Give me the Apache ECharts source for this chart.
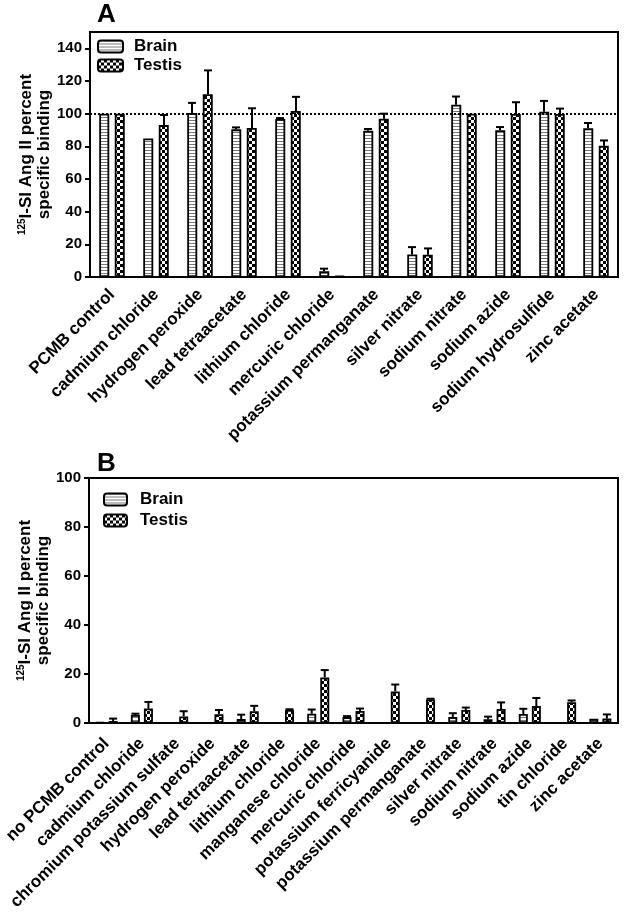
<!DOCTYPE html>
<html lang="en">
<head>
    <meta charset="UTF-8">
    <title>PCMB binding</title>
    <script src="https://cdn.jsdelivr.net/npm/echarts@6/dist/echarts.min.js"></script>
    <style>
        html, body { margin: 0; padding: 0; background: #fff; }
    </style>
</head>
<body>
<div id="main" style="width: 624px;height:917px;"></div>
<script>
    // panel A
    const catsA = ['PCMB control', 'cadmium chloride', 'hydrogen peroxide', 'lead tetraacetate',
        'lithium chloride', 'mercuric chloride', 'potassium permanganate', 'silver nitrate',
        'sodium nitrate', 'sodium azide', 'sodium hydrosulfide', 'zinc acetate'];
    const brainA = [100, 84.8, 100.4, 90.4, 96.7, 3.5, 89.5, 13.8, 105.5, 89.9, 101.2, 91];
    const brainATop = [null, null, 106.6, 91.6, 97.3, 5.1, 90.6, 18.3, 110.5, 91.8, 107.8, 94.3];
    const testisA = [100, 93, 111.9, 91.2, 101.6, 0.6, 96.9, 13.6, 100, 99.8, 99.8, 80.3];
    const testisATop = [null, 99.2, 126.5, 103.3, 110.3, null, 100, 17.5, null, 107, 103.1, 83.6];

    // panel B
    const catsB = ['no PCMB control', 'cadmium chloride', 'chromium potassium sulfate', 'hydrogen peroxide',
        'lead tetraacetate', 'lithium chloride', 'manganese chloride', 'mercuric chloride',
        'potassium ferricyanide', 'potassium permanganate', 'silver nitrate', 'sodium nitrate',
        'sodium azide', 'tin chloride', 'zinc acetate'];
    const brainB = [0.2, 3.3, 0, 0, 1.6, 0, 3.8, 2.4, 0, 0, 2.4, 1.5, 3.7, 0, 1.7];
    const brainBTop = [null, 3.8, null, null, 3.4, null, 5.5, 2.8, null, null, 4.0, 2.6, 5.8, null, null];
    const testisB = [0.8, 5.9, 2.7, 3.6, 4.8, 5.3, 18.6, 4.9, 12.9, 9.6, 5.3, 5.7, 6.9, 8.5, 1.8];
    const testisBTop = [1.8, 8.6, 4.8, 5.3, 7.0, 5.6, 21.6, 5.9, 15.7, 9.9, 6.3, 8.4, 10.2, 9.2, 3.5];

    const ticksA = [0, 20, 40, 60, 80, 100, 120, 140];
    const ticksB = [0, 20, 40, 60, 80, 100];

    const FONT = 'Arial, "Liberation Sans", Helvetica, sans-serif';

    function stripeCanvas() {
        let c = document.createElement('canvas');
        c.width = 4; c.height = 3;
        let g = c.getContext('2d');
        g.fillStyle = '#ffffff';
        g.fillRect(0, 0, 4, 3);
        g.fillStyle = '#7a7a7a';
        g.fillRect(0, 0, 4, 1);
        return c;
    }
    function checkCanvas() {
        let c = document.createElement('canvas');
        c.width = 6; c.height = 6;
        let g = c.getContext('2d');
        g.fillStyle = '#ffffff';
        g.fillRect(0, 0, 6, 6);
        g.fillStyle = '#000000';
        g.fillRect(0, 0, 3, 3);
        g.fillRect(3, 3, 3, 3);
        return c;
    }
    const brainFill = {image: stripeCanvas(), repeat: 'repeat'};
    const testisFill = {image: checkCanvas(), repeat: 'repeat'};

    function errData(tops) {
        let out = [];
        tops.forEach(function (v, i) { if (v !== null) out.push([i, v]); });
        return out;
    }

    // draws one upward error bar, shifted to the bar's centre
    function errRenderer(vals, shift) {
        return function (params, api) {
            let i = api.value(0);
            let base = api.coord([i, vals[i]]);
            let top = api.coord([i, api.value(1)]);
            let x = base[0] + shift;
            return {
                type: 'group',
                children: [
                    {type: 'line', shape: {x1: x, y1: base[1], x2: x, y2: top[1]},
                        style: {stroke: '#000', lineWidth: 2}},
                    {type: 'line', shape: {x1: x - 4, y1: top[1], x2: x + 4, y2: top[1]},
                        style: {stroke: '#000', lineWidth: 2}}
                ]
            };
        };
    }

    function xAxisCfg(cats, gi, margin) {
        return {
            type: 'category', gridIndex: gi, data: cats,
            axisLine: {lineStyle: {color: '#000', width: 2}},
            axisTick: {alignWithLabel: true, length: 5, lineStyle: {color: '#000', width: 2}},
            axisLabel: {interval: 0, rotate: 45, margin: margin, color: '#000',
                fontFamily: FONT, fontWeight: 'bold', fontSize: 17}
        };
    }
    const yName = '{sup|125}{t|I-SI Ang II percent}\n{t|specific binding}';
    function yAxisCfg(gi, max, ticks) {
        return {
            type: 'value', gridIndex: gi, min: 0, max: max, interval: 20,
            name: yName, nameLocation: 'middle', nameGap: 37, nameMoveOverlap: false,
            nameTextStyle: {
                color: '#000', fontFamily: FONT, fontWeight: 'bold', fontSize: 17, lineHeight: 18,
                rich: {
                    t: {fontFamily: FONT, fontWeight: 'bold', fontSize: 17, lineHeight: 18, color: '#000'},
                    sup: {fontFamily: FONT, fontWeight: 'bold', fontSize: 10, lineHeight: 18,
                        verticalAlign: 'top', color: '#000', padding: [0, 0, 7, 0]}
                }
            },
            axisLine: {show: true, lineStyle: {color: '#000', width: 2}},
            axisTick: {show: true, length: 5, customValues: ticks, lineStyle: {color: '#000', width: 2}},
            axisLabel: {customValues: ticks, margin: 8, color: '#000',
                fontFamily: FONT, fontWeight: 'bold', fontSize: 15},
            splitLine: {show: false}
        };
    }

    let chart = echarts.init(document.getElementById('main'));
    let option = {
        animation: false,
        backgroundColor: '#fff',
        title: [
            {text: 'A', left: 97, top: 2, padding: 0,
                textStyle: {fontFamily: FONT, fontWeight: 'bold', fontSize: 26, color: '#000'}},
            {text: 'B', left: 97, top: 451, padding: 0,
                textStyle: {fontFamily: FONT, fontWeight: 'bold', fontSize: 26, color: '#000'}}
        ],
        legend: [
            {
                orient: 'vertical', left: 97, top: 38, padding: 0, itemWidth: 25, itemHeight: 12, itemGap: 2,
                data: ['Brain', 'Testis'], selectedMode: false,
                textStyle: {fontFamily: FONT, fontWeight: 'bold', fontSize: 17, color: '#000', padding: [0, 0, 0, 6]}
            },
            {
                orient: 'vertical', left: 103, top: 491, padding: 0, itemWidth: 23, itemHeight: 12, itemGap: 4,
                data: ['Brain', 'Testis'], selectedMode: false,
                textStyle: {fontFamily: FONT, fontWeight: 'bold', fontSize: 17, color: '#000', padding: [0, 0, 0, 8]}
            }
        ],
        grid: [
            {left: 90, right: 6, top: 32, bottom: 640, show: true, borderColor: '#000', borderWidth: 2},
            {left: 89, right: 6, top: 478, bottom: 194, show: true, borderColor: '#000', borderWidth: 2}
        ],
        xAxis: [xAxisCfg(catsA, 0, 15), xAxisCfg(catsB, 1, 18)],
        yAxis: [yAxisCfg(0, 150, ticksA), yAxisCfg(1, 100, ticksB)],
        series: [
            {
                name: 'Brain', type: 'bar', xAxisIndex: 0, yAxisIndex: 0, data: brainA,
                barWidth: 10, barGap: '55%',
                itemStyle: {color: brainFill, borderColor: '#000', borderWidth: 1.8},
                markLine: {
                    silent: true, symbol: 'none', label: {show: false},
                    lineStyle: {color: '#000', width: 2, type: [2, 2]},
                    data: [{yAxis: 100}]
                }
            },
            {
                name: 'Testis', type: 'bar', xAxisIndex: 0, yAxisIndex: 0, data: testisA,
                barWidth: 10, barGap: '55%',
                itemStyle: {color: testisFill, borderColor: '#000', borderWidth: 1.8}
            },
            {
                type: 'custom', xAxisIndex: 0, yAxisIndex: 0, data: errData(brainATop),
                renderItem: errRenderer(brainA, -8), z: 1
            },
            {
                type: 'custom', xAxisIndex: 0, yAxisIndex: 0, data: errData(testisATop),
                renderItem: errRenderer(testisA, 8), z: 1
            },
            {
                name: 'Brain', type: 'bar', xAxisIndex: 1, yAxisIndex: 1, data: brainB,
                barWidth: 9, barGap: '45%',
                itemStyle: {color: brainFill, borderColor: '#000', borderWidth: 1.8}
            },
            {
                name: 'Testis', type: 'bar', xAxisIndex: 1, yAxisIndex: 1, data: testisB,
                barWidth: 9, barGap: '45%',
                itemStyle: {color: testisFill, borderColor: '#000', borderWidth: 1.8}
            },
            {
                type: 'custom', xAxisIndex: 1, yAxisIndex: 1, data: errData(brainBTop),
                renderItem: errRenderer(brainB, -6.5), z: 1
            },
            {
                type: 'custom', xAxisIndex: 1, yAxisIndex: 1, data: errData(testisBTop),
                renderItem: errRenderer(testisB, 6.5), z: 1
            }
        ]
    };
    chart.setOption(option);
</script>
</body>
</html>
